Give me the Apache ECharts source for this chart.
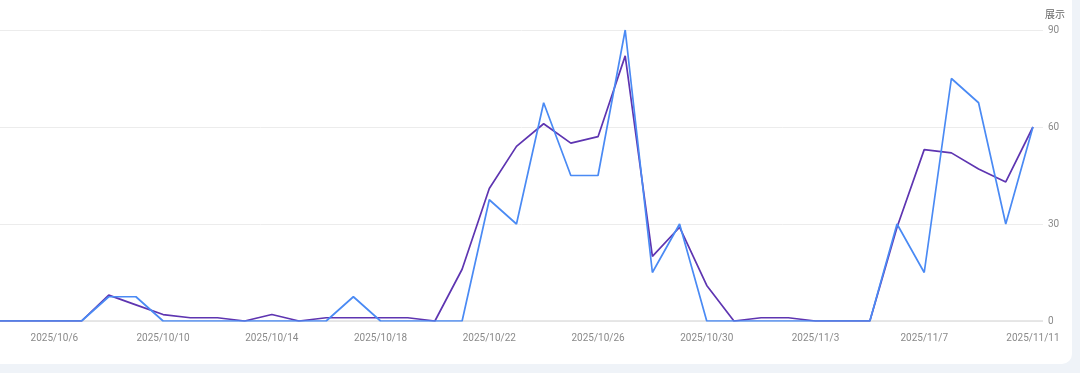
<!DOCTYPE html>
<html>
<head>
<meta charset="utf-8">
<script src="https://cdn.jsdelivr.net/npm/echarts@6/dist/echarts.min.js"></script>
<style>
html,body{margin:0;padding:0;width:1080px;height:373px;background:#eff3f8;overflow:hidden;}
#card{position:absolute;left:0;top:0;width:1072px;height:364px;background:#fff;border-bottom-right-radius:10px;}
#chart{position:absolute;left:0;top:0;width:1080px;height:373px;}
</style>
</head>
<body>
<div id="card"></div>
<div id="chart"></div>
<script>
const categories = [
 '2025/10/4','2025/10/5','2025/10/6','2025/10/7','2025/10/8','2025/10/9','2025/10/10','2025/10/11','2025/10/12','2025/10/13',
 '2025/10/14','2025/10/15','2025/10/16','2025/10/17','2025/10/18','2025/10/19','2025/10/20','2025/10/21','2025/10/22','2025/10/23',
 '2025/10/24','2025/10/25','2025/10/26','2025/10/27','2025/10/28','2025/10/29','2025/10/30','2025/10/31','2025/11/1','2025/11/2',
 '2025/11/3','2025/11/4','2025/11/5','2025/11/6','2025/11/7','2025/11/8','2025/11/9','2025/11/10','2025/11/11'
];
const blueValues = [
 0,0,0,0,7.5,7.5,0,0,0,0,
 0,0,0,7.5,0,0,0,0,37.5,30,
 67.5,45,45,90,15,30,0,0,0,0,
 0,0,0,30,15,75,67.5,30,60
];
const purpleValues = [
 0,0,0,0,8,5,2,1,1,0,
 2,0,1,1,1,1,0,16,41,54,
 61,55,57,82,20,29,11,0,1,1,
 0,0,0,29,53,52,47,43,60
];
const xLabelIndices = [2,6,10,14,18,22,26,30,34,38];
const yAxisName = '展示';

const chart = echarts.init(document.getElementById('chart'), null, {renderer:'canvas'});
const toPairs = arr => arr.map((v,i)=>[i,v]);
chart.setOption({
  backgroundColor:'transparent',
  animation:false,
  title:{
    text:yAxisName,
    left:1045,
    top:9,
    padding:0,
    textStyle:{color:'#666',fontSize:10,fontWeight:'normal',fontFamily:'"Noto Sans CJK SC", sans-serif'}
  },
  grid:{left:0,right:37,top:30,bottom:52,containLabel:false},
  xAxis:{
    type:'value',
    min:0,
    max:38.37,
    axisLine:{show:false},
    axisTick:{show:false},
    splitLine:{show:false},
    axisLabel:{
      customValues:xLabelIndices,
      formatter:v=>categories[Math.round(v)]||'',
      color:'#8a8a8a',
      fontSize:10,
      fontFamily:'Roboto, "Noto Sans CJK SC", sans-serif',
      margin:12
    }
  },
  yAxis:{
    type:'value',
    position:'right',
    min:0,max:90,interval:30,
    axisLine:{show:false},
    axisTick:{show:false},
    splitLine:{show:true,lineStyle:{color:'#ececec',width:1}},
    axisLabel:{color:'#8a8a8a',fontSize:10,fontFamily:'Roboto, sans-serif',margin:5}
  },
  series:[
    {
      type:'line',
      data:[[0,0],[38.37,0]],
      symbol:'none',
      silent:true,
      lineStyle:{color:'#cfcfcf',width:1.2},
      z:1
    },
    {
      name:'purple',
      type:'line',
      data:toPairs(purpleValues),
      symbol:'none',
      lineStyle:{color:'#5e35b1',width:1.7},
      z:3
    },
    {
      name:'blue',
      type:'line',
      data:toPairs(blueValues),
      symbol:'none',
      lineStyle:{color:'#4a8af4',width:1.7},
      z:4
    }
  ]
});
</script>
</body>
</html>
